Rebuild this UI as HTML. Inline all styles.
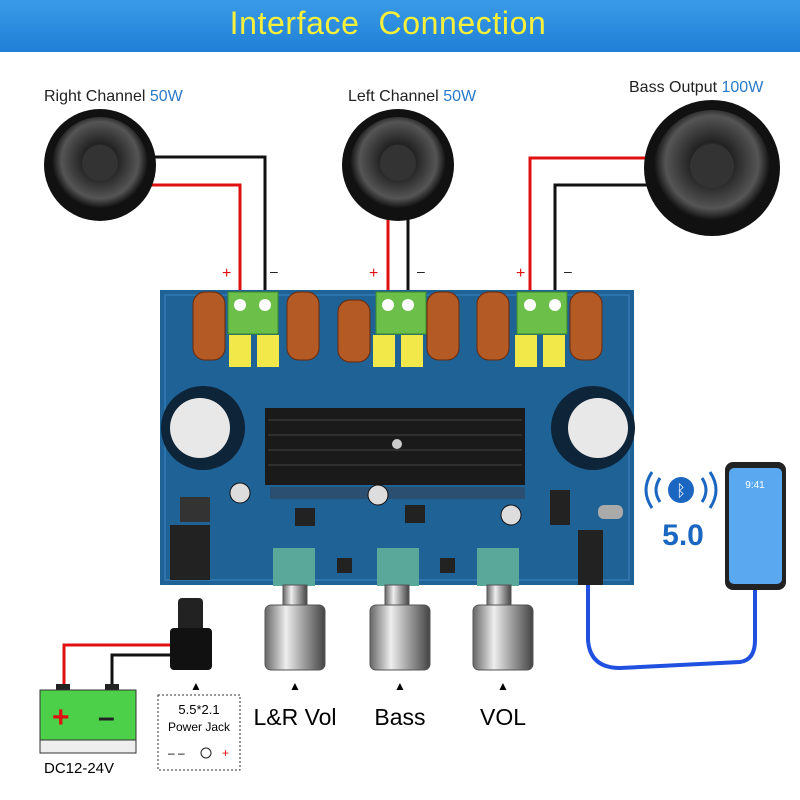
<!DOCTYPE html><html><head><style>
body{margin:0;width:800px;height:800px;background:#fff;position:relative;overflow:hidden;font-family:"Liberation Sans",sans-serif}
.a{position:absolute}
</style></head><body>
<div class="a" style="left:0;top:0;width:800px;height:52px;background:linear-gradient(#3a9be8,#1f7fd6)"></div>
<div class="a" style="left:0;top:5px;width:776px;text-align:center;color:#f6f03a;font-size:32px;letter-spacing:0.6px">Interface&nbsp; Connection</div>
<div class="a" style="left:44px;top:88px;font-size:16px;color:#222">Right Channel <span style="color:#2a7ac8">50W</span></div>
<div class="a" style="left:348px;top:88px;font-size:16px;color:#222">Left Channel <span style="color:#2a7ac8">50W</span></div>
<div class="a" style="left:629px;top:79px;font-size:16px;color:#222">Bass Output <span style="color:#2a7ac8">100W</span></div>
<svg class="a" style="left:0;top:0" width="800" height="800">
<defs><radialGradient id="sp" cx="50%" cy="45%" r="50%"><stop offset="0" stop-color="#777"/><stop offset="0.35" stop-color="#222"/><stop offset="0.8" stop-color="#555"/><stop offset="1" stop-color="#111"/></radialGradient>
<linearGradient id="kn" x1="0" x2="1"><stop offset="0" stop-color="#666"/><stop offset="0.35" stop-color="#eee"/><stop offset="0.6" stop-color="#aaa"/><stop offset="1" stop-color="#444"/></linearGradient></defs>
<g fill="none" stroke-width="3">
<polyline points="150,157 265,157 265,305" stroke="#111"/>
<polyline points="150,185 240,185 240,305" stroke="#e01010"/>
<polyline points="388,215 388,305" stroke="#e01010"/>
<polyline points="408,215 408,305" stroke="#111"/>
<polyline points="530,305 530,158 648,158" stroke="#e01010"/>
<polyline points="555,305 555,185 648,185" stroke="#111"/>
<polyline points="64,690 64,645 185,645" stroke="#e01010"/>
<polyline points="112,690 112,655 185,655" stroke="#111"/>
<path d="M588,585 L588,640 Q590,668 620,668 L740,662 Q755,660 755,640 L755,590" stroke="#2050e0" stroke-width="4"/>
</g>
<text x="222" y="278" fill="#e01010" font-size="16">+</text><text x="270" y="276" fill="#111" font-size="14">–</text>
<text x="369" y="278" fill="#e01010" font-size="16">+</text><text x="417" y="276" fill="#111" font-size="14">–</text>
<text x="516" y="278" fill="#e01010" font-size="16">+</text><text x="564" y="276" fill="#111" font-size="14">–</text>
<circle cx="100" cy="165" r="56" fill="#111"/><circle cx="100" cy="165" r="48" fill="url(#sp)"/><circle cx="100" cy="163" r="18" fill="#333"/>
<circle cx="398" cy="165" r="56" fill="#111"/><circle cx="398" cy="165" r="48" fill="url(#sp)"/><circle cx="398" cy="163" r="18" fill="#333"/>
<circle cx="712" cy="168" r="68" fill="#111"/><circle cx="712" cy="168" r="58" fill="url(#sp)"/><circle cx="712" cy="166" r="22" fill="#333"/>
<rect x="160" y="290" width="474" height="295" fill="#1f6296"/>
<rect x="165" y="295" width="464" height="285" fill="none" stroke="#3a86c0" stroke-width="1"/>
<g fill="#b35a25" stroke="#6a2a0c">
<rect x="193" y="292" width="32" height="68" rx="12"/><rect x="287" y="292" width="32" height="68" rx="12"/>
<rect x="338" y="300" width="32" height="62" rx="12"/><rect x="427" y="292" width="32" height="68" rx="12"/>
<rect x="477" y="292" width="32" height="68" rx="12"/><rect x="570" y="292" width="32" height="68" rx="12"/></g>
<g fill="#6cc04a" stroke="#3d8a28"><rect x="228" y="292" width="50" height="42"/><rect x="376" y="292" width="50" height="42"/><rect x="517" y="292" width="50" height="42"/></g>
<g fill="#fff"><circle cx="240" cy="305" r="6"/><circle cx="265" cy="305" r="6"/><circle cx="388" cy="305" r="6"/><circle cx="408" cy="305" r="6"/><circle cx="530" cy="305" r="6"/><circle cx="555" cy="305" r="6"/></g>
<g fill="#f2e84a"><rect x="229" y="335" width="22" height="32"/><rect x="257" y="335" width="22" height="32"/><rect x="373" y="335" width="22" height="32"/><rect x="401" y="335" width="22" height="32"/><rect x="515" y="335" width="22" height="32"/><rect x="543" y="335" width="22" height="32"/></g>
<circle cx="203" cy="428" r="42" fill="#0e2438"/><circle cx="200" cy="428" r="30" fill="#e8e8e8"/>
<circle cx="593" cy="428" r="42" fill="#0e2438"/><circle cx="598" cy="428" r="30" fill="#e8e8e8"/>
<rect x="265" y="408" width="260" height="77" fill="#1a1a1a"/>
<g stroke="#444"><line x1="268" y1="420" x2="522" y2="420"/><line x1="268" y1="435" x2="522" y2="435"/><line x1="268" y1="450" x2="522" y2="450"/><line x1="268" y1="465" x2="522" y2="465"/></g>
<circle cx="397" cy="444" r="5" fill="#ccc"/>
<rect x="270" y="487" width="255" height="12" fill="#2a4f70"/>
<circle cx="240" cy="493" r="10" fill="#ddd" stroke="#111"/><circle cx="378" cy="495" r="10" fill="#ddd" stroke="#111"/><circle cx="511" cy="515" r="10" fill="#ddd" stroke="#111"/>
<g fill="#222"><rect x="295" y="508" width="20" height="18"/><rect x="405" y="505" width="20" height="18"/><rect x="550" y="490" width="20" height="35"/><rect x="337" y="558" width="15" height="15"/><rect x="440" y="558" width="15" height="15"/></g>
<rect x="180" y="497" width="30" height="25" fill="#333"/>
<rect x="170" y="525" width="40" height="55" fill="#222"/>
<rect x="578" y="530" width="25" height="55" fill="#222"/>
<rect x="598" y="505" width="25" height="14" rx="6" fill="#aaa"/>
<g fill="#5aa89a"><rect x="273" y="548" width="42" height="38"/><rect x="377" y="548" width="42" height="38"/><rect x="477" y="548" width="42" height="38"/></g>
<g fill="url(#kn)" stroke="#555">
<rect x="283" y="585" width="24" height="25"/><rect x="385" y="585" width="24" height="25"/><rect x="487" y="585" width="24" height="25"/>
<rect x="265" y="605" width="60" height="65" rx="6"/><rect x="370" y="605" width="60" height="65" rx="6"/><rect x="473" y="605" width="60" height="65" rx="6"/></g>
<rect x="178" y="598" width="25" height="35" rx="4" fill="#222"/><rect x="170" y="628" width="42" height="42" rx="4" fill="#111"/>
<rect x="56" y="684" width="14" height="8" fill="#222"/><rect x="105" y="684" width="14" height="8" fill="#222"/>
<rect x="40" y="690" width="96" height="50" fill="#4cd04a" stroke="#333"/><rect x="40" y="740" width="96" height="13" fill="#eee" stroke="#333"/>
<text x="52" y="727" fill="#e01010" font-size="30" font-weight="bold">+</text><text x="98" y="727" fill="#222" font-size="30" font-weight="bold">–</text>
<rect x="158" y="695" width="82" height="75" fill="#fff" stroke="#333" stroke-dasharray="2,2"/>
<text x="199" y="714" text-anchor="middle" font-size="13">5.5*2.1</text>
<text x="199" y="731" text-anchor="middle" font-size="12">Power Jack</text>
<text x="168" y="757" font-size="12">– –</text><circle cx="206" cy="753" r="5" fill="none" stroke="#222"/><text x="222" y="757" font-size="12" fill="#e01010">+</text>
<g font-size="12" text-anchor="middle"><text x="196" y="690">▲</text><text x="295" y="690">▲</text><text x="400" y="690">▲</text><text x="503" y="690">▲</text></g>
<circle cx="681" cy="490" r="13" fill="#1a66c0"/><text x="681" y="496" fill="#fff" font-size="16" text-anchor="middle">ᛒ</text>
<g fill="none" stroke="#1a66c0" stroke-width="3"><path d="M660,478 Q652,490 660,502"/><path d="M652,472 Q640,490 652,508"/><path d="M702,478 Q710,490 702,502"/><path d="M710,472 Q722,490 710,508"/></g>
<text x="683" y="545" fill="#1a66c0" font-size="30" font-weight="bold" text-anchor="middle">5.0</text>
<rect x="725" y="462" width="61" height="128" rx="8" fill="#222"/><rect x="729" y="468" width="53" height="116" rx="5" fill="#5aa8f0"/>
<text x="755" y="488" fill="#fff" font-size="10" text-anchor="middle">9:41</text>
</svg>
<div class="a" style="left:44px;top:760px;font-size:15px">DC12-24V</div>
<div class="a" style="left:250px;top:704px;font-size:23px;width:90px;text-align:center">L&amp;R Vol</div>
<div class="a" style="left:355px;top:704px;font-size:23px;width:90px;text-align:center">Bass</div>
<div class="a" style="left:458px;top:704px;font-size:23px;width:90px;text-align:center">VOL</div>
</body></html>
